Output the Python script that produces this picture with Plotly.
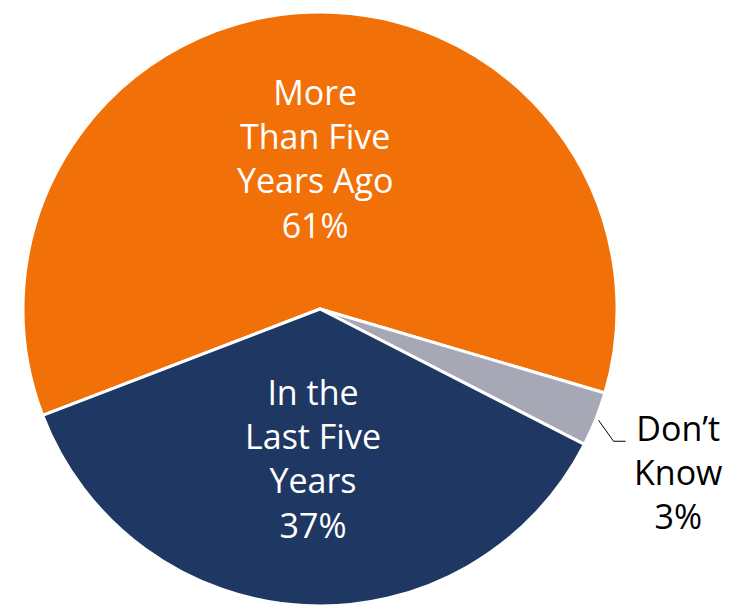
import math
import plotly.graph_objects as go

labels = ["More<br>Than Five<br>Years Ago", "Don’t<br>Know", "In the<br>Last Five<br>Years"]
values = [61, 3, 37]
colors = ["#F17108", "#A6A8B5", "#1F3763"]
text_colors = ["white", "black", "white"]

W, H = 742, 607
OFF = 8  # page body margin in the screenshot
cx, cy, R = 320 - OFF, 309 - OFF, 297
rotation = 249

def px2paper(px, py):
    return (px - OFF) / W, 1 - (py - OFF) / H

fig = go.Figure(go.Pie(
    labels=labels, values=values, sort=False, direction="clockwise",
    rotation=rotation, textinfo="none", hoverinfo="label+percent",
    marker=dict(colors=colors, line=dict(color="white", width=3)),
    domain=dict(x=[(cx - R) / W, (cx + R) / W], y=[(H - cy - R) / H, (H - cy + R) / H]),
    showlegend=False,
))

# label positions (screen pixel centres of text blocks)
label_pos = [(315, 159), (678, 472), (313, 458)]
for lab, v, col, (px, py) in zip(labels, values, text_colors, label_pos):
    x, y = px2paper(px, py)
    fig.add_annotation(
        x=x, y=y, xref="paper", yref="paper",
        text=f"{lab}<br>{v}%", showarrow=False,
        font=dict(family="Open Sans", size=34, color=col),
        align="center", xanchor="center", yanchor="middle",
    )

# leader line for small slice, derived from slice mid-angle
total = sum(values)
start = rotation + values[0] / total * 360
mid = math.radians(start + values[1] / total * 360 / 2)
x0 = cx + R * 1.01 * math.sin(mid)
y0 = cy - R * 1.01 * math.cos(mid)
x1, y1 = x0 + 15, y0 + 21
x2 = x1 + 12
fig.add_shape(type="path", xref="paper", yref="paper",
              path=f"M {x0/W} {1-y0/H} L {x1/W} {1-y1/H} L {x2/W} {1-y1/H}",
              line=dict(color="black", width=1))

fig.update_layout(width=W, height=H, margin=dict(l=0, r=0, t=0, b=0),
                  paper_bgcolor="white", plot_bgcolor="white")
fig.write_html("out.html")
